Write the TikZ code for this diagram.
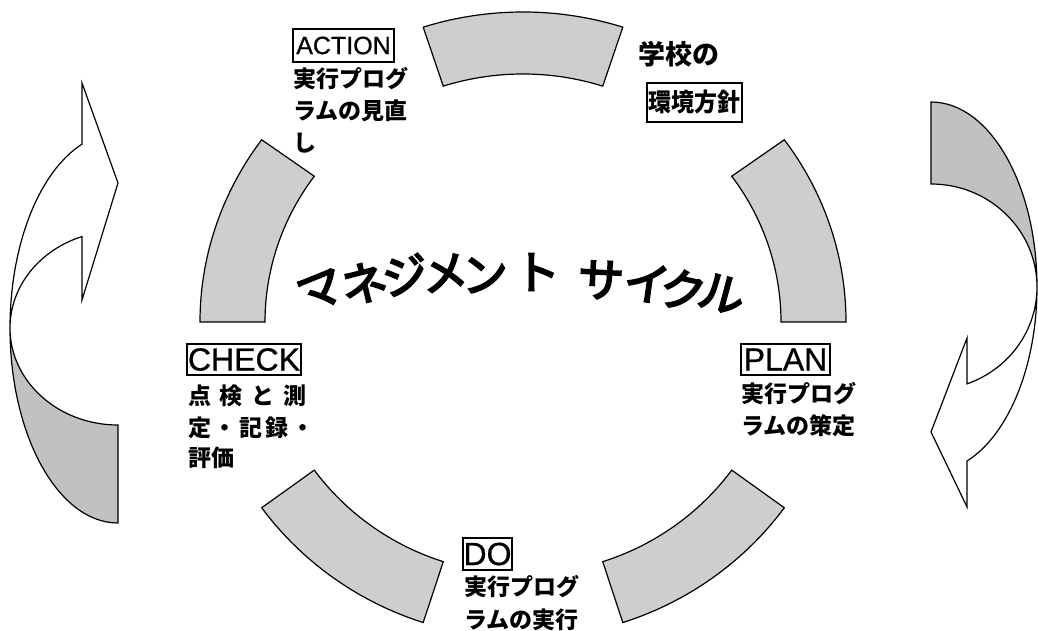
\documentclass[tikz,border=0pt]{standalone}
\usepackage{fontspec}
\setmainfont{Liberation Sans}
\newfontfamily\jp{Noto Sans CJK JP}
\newfontfamily\jptitle{Noto Sans CJK JP}[FakeBold=4]
\newfontfamily\lat{Liberation Sans}[FakeBold=0.8]
\usetikzlibrary{calc}
\definecolor{ringgray}{RGB}{205,206,208}
\definecolor{sidegray}{RGB}{192,193,195}
\begin{document}
\begin{tikzpicture}[x=1pt,y=1pt,
  seg/.style={draw=black, line width=1.2pt, fill=ringgray, line join=miter},
  side/.style={draw=black, line width=1.2pt, line join=miter},
  tag/.style={draw=black, line width=1.4pt, inner sep=0pt},
  jl/.style={anchor=west, inner sep=0pt, font=\jp\bfseries\fontsize{23}{23}\selectfont},
  ttl/.style={inner sep=0pt, font=\jptitle\fontsize{46}{46}\selectfont}]
\useasboundingbox (0,0) rectangle (1038,630);

% ring segments
\coordinate (C) at (523,308);
\foreach \a/\b/\bo/\bi in {0/36/310/248, 72/108/310/248, 144/180/310/248, 216/252/316/252, 288/324/316/252} {
  \draw[seg] ($(C)+(\a:323 and \bo)$) arc[start angle=\a, end angle=\b, x radius=323, y radius=\bo]
    -- ($(C)+(\b:258 and \bi)$) arc[start angle=\b, end angle=\a, x radius=258, y radius=\bi] -- cycle;
}

% left curved arrow
\coordinate (L) at (118,302);
\draw[side, fill=sidegray] ($(L)+(180:108 and 195)$) arc[start angle=180, end angle=270, x radius=108, y radius=195]
  -- ($(L)+(270:108 and 97)$) arc[start angle=270, end angle=180, x radius=108, y radius=97] -- cycle;
\draw[side, fill=white] ($(L)+(180:108 and 195)$) arc[start angle=180, end angle=109.47, x radius=108, y radius=195]
  -- (82,547) -- (118,447) -- (82,330)
  -- ($(L)+(109.47:108 and 97)$) arc[start angle=109.47, end angle=180, x radius=108, y radius=97] -- cycle;

% right curved arrow
\coordinate (R) at (931,343);
\draw[side, fill=sidegray] ($(R)+(90:106 and 185)$) arc[start angle=90, end angle=0, x radius=106, y radius=185]
  arc[start angle=0, end angle=90, x radius=106, y radius=103] -- cycle;
\draw[side, fill=white] ($(R)+(0:106 and 185)$) arc[start angle=0, end angle=-70.15, x radius=106, y radius=185]
  -- (967,123) -- (931,198) -- (967,292)
  -- ($(R)+(-70.15:106 and 103)$) arc[start angle=-70.15, end angle=0, x radius=106, y radius=103] -- cycle;

% ACTION
\node[tag, font=\lat\fontsize{25}{25}\selectfont, minimum width=101pt, minimum height=33pt] (action) at (343.5,584.5) {ACTION};
\node[jl] (act1) at (293,551) {実行プログ};
\node[jl] (act2) at (293,519) {ラムの見直};
\node[jl] (act3) at (293,487) {し};

% policy
\node[anchor=west, inner sep=0pt, font=\jp\bfseries\fontsize{27}{27}\selectfont] (school) at (638,576) {学校の};
\node[tag, font=\jp\bfseries\fontsize{25}{25}\selectfont, minimum width=95pt, minimum height=39pt] (policy) at (694.5,527.5) {\scalebox{0.92}[1]{環境方針}};

% PLAN
\node[tag, font=\lat\fontsize{32}{32}\selectfont, minimum width=89pt, minimum height=31pt] (plan) at (785.5,270.5) {PLAN};
\node[jl] (plan1) at (741,236) {実行プログ};
\node[jl] (plan2) at (741,204) {ラムの策定};

% CHECK
\node[tag, font=\lat\fontsize{32}{32}\selectfont, minimum width=114pt, minimum height=31pt] (check) at (244,270.5) {CHECK};
\node[jl] (chk1) at (188,234) {\hbox to 118pt{点\hfill 検\hfill と\hfill 測}};
\node[jl] (chk2) at (188,202.5) {\hbox to 126pt{定\hfill ・\hfill 記\hfill 録\hfill ・}};
\node[jl] (chk3) at (188,172.5) {評価};

% DO
\node[tag, font=\lat\fontsize{32}{32}\selectfont, minimum width=49pt, minimum height=32pt] (do) at (487.5,76) {DO};
\node[jl] (do1) at (464,43) {実行プログ};
\node[jl] (do2) at (464,10) {ラムの実行};

% title
\foreach \c/\x/\y/\r [count=\i] in {マ/321/339/22, ネ/364/347/14, ジ/405/355/10, メ/445/357/5, ン/485/355/2, ト/537/358/0, サ/601/350/-3, イ/647/347/-8, ク/683/340/-12, ル/722/336/-15} {
  \node[ttl, rotate=\r] (t\i) at (\x,\y) {\makebox[0.8em]{\c}};
}
\end{tikzpicture}
\end{document}
